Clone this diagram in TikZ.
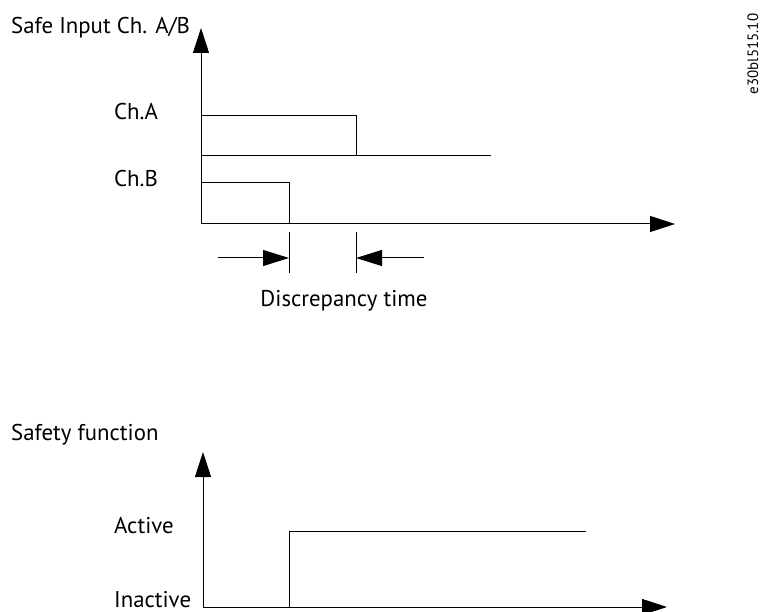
\documentclass[tikz,border=0pt]{standalone}
\usepackage{fontspec}
\setmainfont{PT Sans}
\usetikzlibrary{arrows.meta}
\tikzset{
  axe/.style={line width=1pt,-{Triangle[length=25pt,width=16pt]}},
  fleche/.style={line width=1pt,-{Triangle[length=26pt,width=16pt]}},
  signal/.style={line width=1pt},
  etiquette/.style={inner sep=0pt,anchor=base west,font=\fontsize{22.8}{26}\selectfont},
}
\begin{document}
\begin{tikzpicture}[x=1pt,y=-1pt]
   \useasboundingbox (0,0) rectangle (761,612);

   % Premier diagramme : entrées Ch.A et Ch.B
   \coordinate (o1) at (201,224);
   \coordinate (y1) at (201,28);
   \coordinate (x1) at (675,224);
   \draw[axe] (o1) -- (y1);
   \draw[axe] (o1) -- (x1);
   \node[etiquette] (titre1) at (11,34) {Safe Input Ch. A/B};
   \node[etiquette] (chA) at (114,120) {Ch.A};
   \node[etiquette] (chB) at (114,187) {Ch.B};

   % Signal du canal A
   \coordinate (a0) at (201,156);
   \coordinate (a1) at (201,116);
   \coordinate (a2) at (356,156);
   \coordinate (a3) at (491,156);
   \draw[signal] (a1) -| (a2) -- (a3);
   \draw[signal] (a0) -- (a2);

   % Signal du canal B
   \coordinate (b1) at (201,183);
   \coordinate (b2) at (289,224);
   \draw[signal] (b1) -| (b2);

   % Temps de discordance
   \foreach \i/\x/\dep in {1/289/218, 2/356/424} {
      \coordinate (th\i) at (\x,232);
      \coordinate (tb\i) at (\x,273);
      \coordinate (tm\i) at (\x,258);
      \coordinate (td\i) at (\dep,258);
      \draw[signal] (th\i) -- (tb\i);
      \draw[fleche] (td\i) -- (tm\i);
   }
   \node[etiquette,anchor=base] (discord) at (344,307) {Discrepancy time};

   % Référence de la figure
   \node[inner sep=0pt,anchor=base,rotate=90,font=\fontsize{15}{18}\selectfont]
      (ref) at (758,54) {e30bl515.10};

   % Second diagramme : fonction de sécurité
   \coordinate (o2) at (203,607);
   \coordinate (y2) at (203,452);
   \coordinate (x2) at (667,607);
   \draw[axe] (o2) -- (y2);
   \draw[axe] (o2) -- (x2);
   \node[etiquette] (titre2) at (11,440) {Safety function};
   \node[etiquette] (actif) at (114,533) {Active};
   \node[etiquette] (inactif) at (114,607) {Inactive};

   % Passage à l'état actif
   \coordinate (s1) at (289,607);
   \coordinate (s2) at (586,531);
   \draw[signal] (s1) |- (s2);
\end{tikzpicture}
\end{document}
